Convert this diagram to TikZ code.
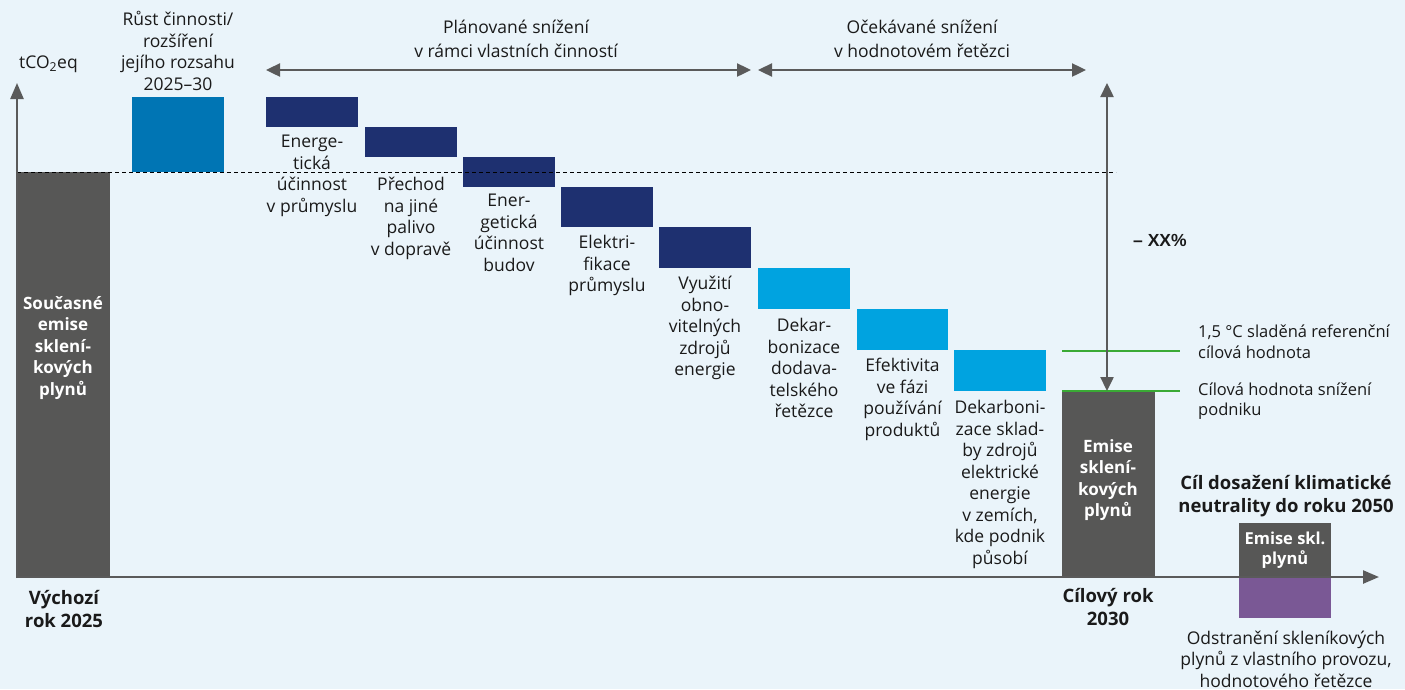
\documentclass[tikz,border=0pt]{standalone}
\usepackage{fontspec}
\setmainfont{Open Sans}
\newfontfamily\pctfont{Liberation Sans}
\usetikzlibrary{arrows.meta,calc}

\definecolor{bgc}{HTML}{EAF4FA}
\definecolor{darkgray}{HTML}{575756}
\definecolor{navy}{HTML}{1E3070}
\definecolor{growblue}{HTML}{0075B4}
\definecolor{lightblue}{HTML}{00A3E0}
\definecolor{purple}{HTML}{7A5895}
\definecolor{goalgreen}{HTML}{3AAA35}
\definecolor{arrowgray}{HTML}{5A5A5A}
\definecolor{ink}{HTML}{1A1A1A}

\begin{document}
\begin{tikzpicture}[x=1pt,y=-1pt,
  bar/.style={draw=none, inner sep=0pt, outer sep=0pt, anchor=north west},
  lbl/.style={align=center, inner sep=0pt, anchor=north, text=ink,
    font=\fontsize{17.5}{21.5}\selectfont},
  barlbl/.style={align=center, inner sep=0pt, text=white,
    font=\fontsize{17}{21.5}\selectfont\bfseries},
  boldlbl/.style={align=center, inner sep=0pt, text=ink,
    font=\fontsize{18.5}{23.5}\selectfont\bfseries},
  sidelbl/.style={align=left, inner sep=0pt, anchor=west, text=ink,
    font=\fontsize{16.5}{20.5}\selectfont},
  axisline/.style={draw=arrowgray, line width=2.4pt,
    -{Triangle[length=16pt,width=13pt]}},
  span/.style={draw=arrowgray, line width=2.4pt,
    {Triangle[length=14pt,width=13pt]}-{Triangle[length=14pt,width=13pt]}},
  goal/.style={draw=goalgreen, line width=2.4pt},
]
% canvas
\fill[bgc] (0,0) rectangle (1405,689);
\useasboundingbox (0,0) rectangle (1405,689);

% baseline and target-year bars
\node[bar, fill=darkgray, minimum width=93pt, minimum height=405pt] (base) at (17,172) {};
\node[bar, fill=darkgray, minimum width=93pt, minimum height=186pt] (target) at (1062,391) {};
\node[bar, fill=darkgray, minimum width=92pt, minimum height=54pt] (net) at (1239,523) {};
\node[bar, fill=purple, minimum width=92pt, minimum height=41pt] (removal) at (1239,577) {};

% growth bar
\node[bar, fill=growblue, minimum width=92pt, minimum height=75pt] (grow) at (132,97) {};

% own-operations reduction steps
\node[bar, fill=navy, minimum width=92pt, minimum height=30pt] (b1) at (266,97) {};
\node[bar, fill=navy, minimum width=92pt, minimum height=30pt] (b2) at (365,127) {};
\node[bar, fill=navy, minimum width=92pt, minimum height=30pt] (b3) at (463,157) {};
\node[bar, fill=navy, minimum width=92pt, minimum height=40pt] (b4) at (561,187) {};
\node[bar, fill=navy, minimum width=92pt, minimum height=41pt] (b5) at (659,227) {};
% value-chain reduction steps
\node[bar, fill=lightblue, minimum width=92pt, minimum height=41pt] (b6) at (758,268) {};
\node[bar, fill=lightblue, minimum width=91pt, minimum height=41pt] (b7) at (857,309) {};
\node[bar, fill=lightblue, minimum width=92pt, minimum height=41pt] (b8) at (954,350) {};

% baseline level
\coordinate (dashL) at (17,172);
\coordinate (dashR) at (1116,172);
\draw[black, line width=1pt, dash pattern=on 4pt off 3pt] (dashL) -- (dashR);

% goal lines
\coordinate (g1L) at (1062,351);
\coordinate (g1R) at (1180,351);
\coordinate (g2L) at (1062,391);
\coordinate (g2R) at (1180,391);
\draw[goal] (g1L) -- (g1R);
\draw[goal] (g2L) -- (g2R);

% axes
\coordinate (origin) at (17,577);
\coordinate (ytip) at (17,83);
\coordinate (xtip) at (1379,577);
\draw[axisline] (origin) -- (xtip);
\draw[axisline] ($(origin)+(0,1.2)$) -- (ytip);

% span arrows
\coordinate (s1L) at (266,70);
\coordinate (s1R) at (751,70);
\coordinate (s2L) at (758,70);
\coordinate (s2R) at (1086,70);
\draw[span] (s1L) -- (s1R);
\draw[span] (s2L) -- (s2R);

\coordinate (redTop) at (1107,83);
\coordinate (redBot) at (1107,391);
\draw[span] (redBot) -- (redTop);

% header texts
\node[lbl, anchor=west] (unit) at (19,64) {tCO\textsubscript{2}eq};
\node[lbl, anchor=center] (growlbl) at (178,51) {Růst činnosti/\\rozšíření\\jejího rozsahu\\2025–30};
\node[lbl, anchor=center, font=\fontsize{17.5}{24}\selectfont] (ownlbl) at (516,39) {Plánované snížení\\v rámci vlastních činností};
\node[lbl, anchor=center, font=\fontsize{17.5}{24}\selectfont] (chainlbl) at (922,39) {Očekávané snížení\\v hodnotovém řetězci};

% step labels
\node[lbl] (l1) at ($(b1.south)+(0,8)$) {Energe-\\tická\\účinnost\\v průmyslu};
\node[lbl] (l2) at ($(b2.south)+(0,20)$) {Přechod\\na jiné\\palivo\\v dopravě};
\node[lbl] (l3) at ($(b3.south)+(0,7)$) {Ener-\\getická\\účinnost\\budov};
\node[lbl] (l4) at ($(b4.south)+(0,8)$) {Elektri-\\fikace\\průmyslu};
\node[lbl] (l5) at ($(b5.south)+(0,8)$) {Využití\\obno-\\vitelných\\zdrojů\\energie};
\node[lbl] (l6) at ($(b6.south)+(0,9)$) {Dekar-\\bonizace\\dodava-\\telského\\řetězce};
\node[lbl] (l7) at ($(b7.south)+(0,8)$) {Efektivita\\ve fázi\\používání\\produktů};
\node[lbl] (l8) at ($(b8.south)+(0,9)$) {Dekarboni-\\zace sklad-\\by zdrojů\\elektrické\\energie\\v zemích,\\kde podnik\\působí};

% texts inside bars
\node[barlbl] (baseIn) at (63,348) {Současné\\emise\\sklení-\\kových\\plynů};
\node[barlbl] (targetIn) at (1108,480) {Emise\\sklení-\\kových\\plynů};
\node[barlbl, font=\fontsize{16.5}{19.5}\selectfont\bfseries] (netIn) at (1285,550) {Emise skl.\\plynů};

% reduction percentage
\node[inner sep=0pt, anchor=west, text=ink, font=\fontsize{17.5}{20}\selectfont\pctfont\bfseries] (pct) at (1133,240) {– XX\%};

% goal line texts
\node[sidelbl] (refgoal) at (1198,342) {1,5 °C sladěná referenční\\cílová hodnota};
\node[sidelbl] (firmgoal) at (1198,401) {Cílová hodnota snížení\\podniku};

% axis labels
\node[boldlbl] (y2025) at (64,609) {Výchozí\\rok 2025};
\node[boldlbl] (y2030) at (1108,607) {Cílový rok\\2030};
\node[boldlbl] (y2050) at (1286,496) {Cíl dosažení klimatické\\neutrality do roku 2050};
\node[lbl, anchor=center] (removallbl) at (1286,659) {Odstranění skleníkových\\plynů z vlastního provozu,\\hodnotového řetězce};
\end{tikzpicture}
\end{document}
